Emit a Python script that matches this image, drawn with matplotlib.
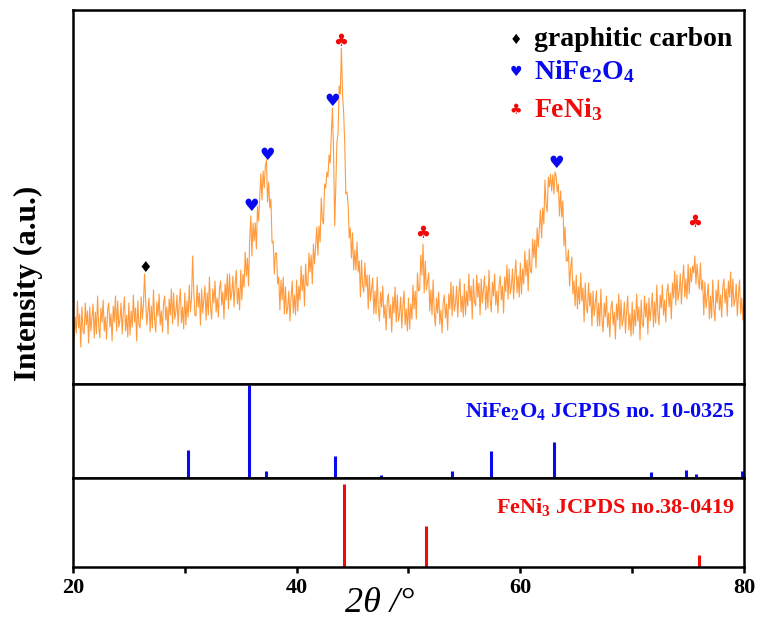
import numpy as np
import matplotlib

matplotlib.use("Agg")
import matplotlib.pyplot as plt

plt.rcParams["font.family"] = ["Liberation Serif", "DejaVu Sans"]
plt.rcParams["font.weight"] = "bold"
plt.rcParams["mathtext.fontset"] = "custom"
plt.rcParams["mathtext.rm"] = "Liberation Serif:bold"
plt.rcParams["mathtext.default"] = "rm"

# --- maalt XRD-moenster (2theta 20..80, trin 0.1) -- en raekke pr. grad ---
scan_start, scan_step = 20.0, 0.1
intensity = [
    75, 43, 67, 51, 83, 56, 70, 37, 77, 53,            # 20
    50, 81, 59, 73, 41, 77, 53, 66, 80, 46,            # 21
    72, 50, 88, 58, 46, 76, 62, 84, 53, 67,            # 22
    45, 74, 81, 57, 70, 43, 78, 62, 88, 53,            # 23
    83, 57, 64, 81, 50, 72, 87, 53, 69, 47,            # 24
    81, 49, 73, 57, 89, 62, 76, 43, 83, 59,            # 25
    56, 87, 65, 79, 110, 83, 59, 72, 86, 52,           # 26
    78, 56, 94, 64, 52, 82, 68, 90, 59, 73,            # 27
    52, 81, 88, 64, 77, 50, 85, 69, 95, 60,            # 28
    91, 65, 72, 89, 58, 80, 95, 61, 77, 55,            # 29
    91, 59, 83, 67, 99, 72, 86, 128, 93, 69,           # 30
    68, 99, 77, 91, 59, 95, 71, 84, 98, 64,            # 31
    91, 69, 107, 77, 65, 95, 81, 103, 72, 86,          # 32
    67, 96, 103, 79, 92, 65, 100, 84, 110, 75,         # 33
    110, 84, 91, 108, 77, 99, 114, 80, 96, 74,         # 34
    114, 84, 110, 97, 132, 108, 126, 98, 144, 168,     # 35
    128, 161, 143, 161, 135, 178, 163, 186, 210, 184,  # 36
    213, 196, 218, 224, 182, 202, 176, 185, 141, 143,  # 37
    110, 131, 131, 100, 107, 74, 104, 84, 107, 70,     # 38
    97, 70, 76, 93, 63, 86, 103, 71, 89, 69,           # 39
    104, 73, 98, 84, 118, 93, 109, 78, 120, 99,        # 40
    98, 131, 112, 129, 100, 140, 120, 138, 157, 129,   # 41
    158, 142, 186, 164, 160, 200, 196, 212, 207, 229,  # 42
    221, 250, 276, 232, 158, 198, 242, 250, 298, 290,  # 43
    336, 290, 272, 240, 190, 192, 180, 146, 156, 126,  # 44
    151, 114, 134, 114, 142, 112, 123, 87, 124, 98,    # 45
    92, 121, 97, 109, 75, 109, 83, 94, 106, 70,        # 46
    93, 70, 107, 76, 63, 92, 77, 98, 66, 79,           # 47
    54, 83, 90, 66, 79, 52, 87, 71, 97, 62,            # 48
    89, 63, 70, 87, 56, 78, 93, 59, 75, 53,            # 49
    86, 55, 80, 65, 99, 75, 93, 65, 111, 93,           # 50
    94, 129, 109, 140, 91, 123, 94, 102, 111, 73,      # 51
    94, 69, 104, 72, 58, 86, 71, 92, 60, 74,           # 52
    51, 81, 89, 66, 80, 54, 90, 75, 102, 68,           # 53
    98, 73, 80, 98, 67, 90, 105, 72, 88, 67,           # 54
    100, 69, 93, 78, 110, 83, 98, 65, 105, 82,         # 55
    78, 109, 87, 101, 69, 105, 81, 94, 108, 74,        # 56
    98, 76, 114, 84, 72, 102, 88, 110, 79, 93,         # 57
    71, 100, 108, 84, 98, 71, 107, 92, 119, 85,        # 58
    115, 90, 98, 115, 85, 108, 124, 91, 108, 87,       # 59
    121, 90, 115, 100, 133, 108, 124, 93, 135, 113,    # 60
    111, 145, 126, 144, 116, 156, 137, 155, 174, 146,  # 61
    176, 160, 204, 179, 172, 207, 197, 210, 193, 209,  # 62
    190, 212, 208, 192, 200, 168, 193, 167, 183, 138,  # 63
    157, 123, 123, 134, 98, 116, 127, 90, 103, 78,     # 64
    109, 75, 97, 80, 111, 83, 96, 62, 101, 76,         # 65
    71, 101, 78, 91, 58, 93, 68, 80, 93, 58,           # 66
    81, 58, 95, 64, 52, 81, 67, 88, 57, 71,            # 67
    47, 76, 83, 59, 72, 45, 80, 64, 90, 55,            # 68
    84, 58, 65, 82, 51, 73, 88, 54, 70, 48,            # 69
    82, 50, 74, 58, 90, 63, 77, 44, 84, 60,            # 70
    57, 88, 67, 81, 50, 86, 63, 76, 91, 57,            # 71
    82, 61, 99, 70, 59, 89, 76, 99, 69, 84,            # 72
    62, 92, 100, 77, 91, 65, 101, 86, 113, 79,         # 73
    109, 84, 92, 110, 80, 103, 119, 87, 105, 85,       # 74
    120, 90, 116, 102, 118, 111, 128, 100, 120, 104,   # 75
    95, 121, 94, 104, 69, 102, 76, 87, 100, 65,        # 76
    88, 66, 104, 75, 63, 94, 81, 104, 74, 89,          # 77
    67, 97, 105, 81, 95, 68, 103, 87, 112, 77,         # 78
    105, 78, 84, 100, 68, 90, 104, 70, 86, 64,         # 79
    84,                                                # 80
]
two_theta = scan_start + scan_step * np.arange(len(intensity))

# --- refleks-markeringer (2theta, hoejde) ---
carbon_peaks = [(26.5, 116)]
nife2o4_peaks = [(35.9, 178), (37.35, 229), (43.2, 283), (63.2, 221)]
feni3_peaks = [(43.9, 343), (51.3, 151), (75.6, 162)]

# --- standardkort ---
nife2o4_pos = [30.3, 35.7, 37.3, 43.4, 47.5, 53.9, 57.4, 63.0, 66.4, 71.7, 74.8, 75.7, 79.8]
nife2o4_int = [30, 100, 8, 24, 3, 8, 29, 39, 1, 6, 9, 4, 7]
feni3_pos = [44.25, 51.55, 76.0]
feni3_int = [100, 50, 14]

BLUE = "#0a0af0"
RED = "#f00a0a"
ORANGE = "#ff8a1c"

fig = plt.figure(figsize=(7.6, 6.21), dpi=100)
left, right = 0.096, 0.979
ax_top = fig.add_axes([left, 0.3816, right - left, 0.984 - 0.3816])
ax_mid = fig.add_axes([left, 0.2303, right - left, 0.3816 - 0.2303])
ax_bot = fig.add_axes([left, 0.0870, right - left, 0.2303 - 0.0870])

for ax in (ax_top, ax_mid, ax_bot):
    ax.set_xlim(20, 80)
    for sp in ax.spines.values():
        sp.set_linewidth(1.8)
    ax.set_yticks([])
ax_top.set_xticks([])
ax_mid.set_xticks([])

# maalt kurve
ax_top.plot(two_theta, intensity, color=ORANGE, lw=0.8, alpha=0.85)
ax_top.set_ylim(0, 374)

sym = dict(family="DejaVu Sans", ha="center", va="center")
for x, y in carbon_peaks:
    ax_top.text(x, y, "\u2666", color="black", fontsize=11, **sym)
for x, y in nife2o4_peaks:
    ax_top.text(x, y, "\u2665", color=BLUE, fontsize=12.5, **sym)
for x, y in feni3_peaks:
    ax_top.text(x, y, "\u2663", color=RED, fontsize=12, **sym)

# "legende" som tekst
legend_rows = [
    ("\u2666", "graphitic carbon", "black", 344),
    ("\u2665", r"NiFe$_2$O$_4$", BLUE, 312),
    ("\u2663", r"FeNi$_3$", RED, 274),
]
for s, label, c, y in legend_rows:
    ax_top.text(59.6, y, s, color=c, fontsize=10, **sym)
    ax_top.text(61.2, y, label, color=c, fontsize=20, fontweight="bold",
                ha="left", va="center")

# standardkort
ax_mid.vlines(nife2o4_pos, 0, nife2o4_int, color=BLUE, lw=2.2)
ax_mid.set_ylim(0, 101)
ax_mid.text(79.2, 72, r"NiFe$_2$O$_4$ JCPDS no. 10-0325", color=BLUE,
            fontsize=16, ha="right", va="center")

ax_bot.vlines(feni3_pos, 0, feni3_int, color=RED, lw=2.2)
ax_bot.set_ylim(0, 107.5)
ax_bot.text(79.2, 72, r"FeNi$_3$ JCPDS no.38-0419", color=RED,
            fontsize=16, ha="right", va="center")

ax_bot.set_xticks([20, 30, 40, 50, 60, 70, 80])
ax_bot.set_xticklabels(["20", "", "40", "", "60", "", "80"])
ax_bot.tick_params(axis="x", direction="out", length=4, width=1.8,
                   labelsize=16, pad=4)
for t in ax_bot.get_xticklabels():
    t.set_fontweight("bold")

fig.text(0.5, 1 - 603 / 621, "2\u03b8 /\u00b0", fontsize=26, fontstyle="italic",
         fontweight="normal", ha="center", va="center")
fig.text(0.037, 1 - 283 / 621, "Intensity (a.u.)", rotation=90,
         fontsize=22.5, fontweight="bold", ha="center", va="center")

fig.savefig("out.png", dpi=100)
